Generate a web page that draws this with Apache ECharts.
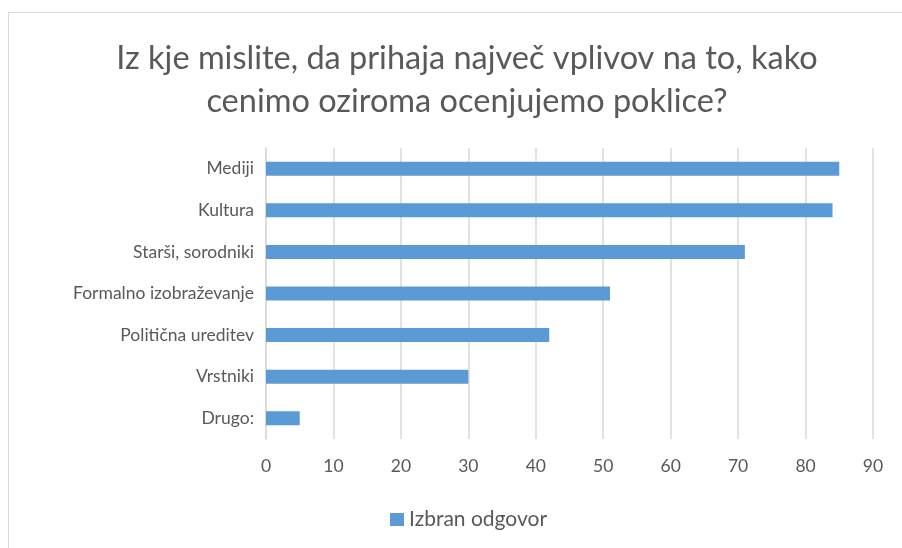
<!DOCTYPE html>
<html>
<head>
<meta charset="utf-8">
<script src="https://cdn.jsdelivr.net/npm/echarts@6/dist/echarts.min.js"></script>
<style>
  html, body { margin: 0; padding: 0; background: #fff; }
  #frame { position: absolute; left: 8px; top: 12px; width: 1000px; height: 1000px;
           border-left: 1px solid #d9d9d9; border-top: 1px solid #d9d9d9; box-sizing: border-box; }
  #chart { position: absolute; left: 0; top: 0; width: 902px; height: 548px; }
</style>
</head>
<body>
<div id="frame"></div>
<div id="chart"></div>
<script>
// Survey answers, listed bottom-to-top as the category axis draws them
const categories = ['Drugo:', 'Vrstniki', 'Politična ureditev', 'Formalno izobraževanje', 'Starši, sorodniki', 'Kultura', 'Mediji'];
const answers = [5, 30, 42, 51, 71, 84, 85];
const seriesName = 'Izbran odgovor';
const titleText = 'Iz kje mislite, da prihaja največ vplivov na to, kako\ncenimo oziroma ocenjujemo poklice?';

const textColor = '#595959';
const fontFamily = 'Lato, "Open Sans", sans-serif';

const chart = echarts.init(document.getElementById('chart'), null, { renderer: 'canvas' });
chart.setOption({
  backgroundColor: 'transparent',
  animation: false,
  title: {
    text: titleText,
    left: 462,
    textAlign: 'center',
    top: 32,
    textStyle: { color: textColor, fontSize: 32.5, fontWeight: 'normal', fontFamily: fontFamily, lineHeight: 43 }
  },
  legend: {
    bottom: 13,
    left: 385,
    itemWidth: 14,
    itemHeight: 13,
    icon: 'rect',
    itemGap: 5,
    textStyle: { color: textColor, fontSize: 21, fontFamily: fontFamily }
  },
  grid: { left: 266, right: 29, top: 148, bottom: 109, containLabel: false },
  xAxis: {
    type: 'value',
    min: 0,
    max: 90,
    interval: 10,
    axisLine: { show: false },
    axisTick: { show: false },
    axisLabel: { color: textColor, fontSize: 17.5, fontFamily: fontFamily, margin: 18 },
    splitLine: { show: true, lineStyle: { color: '#d9d9d9', width: 1.5 } }
  },
  yAxis: {
    type: 'category',
    data: categories,
    axisLine: { show: true, lineStyle: { color: '#d9d9d9', width: 1.5 } },
    axisTick: { show: false },
    axisLabel: { color: textColor, fontSize: 17.5, fontFamily: fontFamily, margin: 12 }
  },
  series: [{
    name: seriesName,
    type: 'bar',
    data: answers,
    barWidth: 14,
    itemStyle: { color: '#5B9BD5' }
  }]
});
</script>
</body>
</html>
